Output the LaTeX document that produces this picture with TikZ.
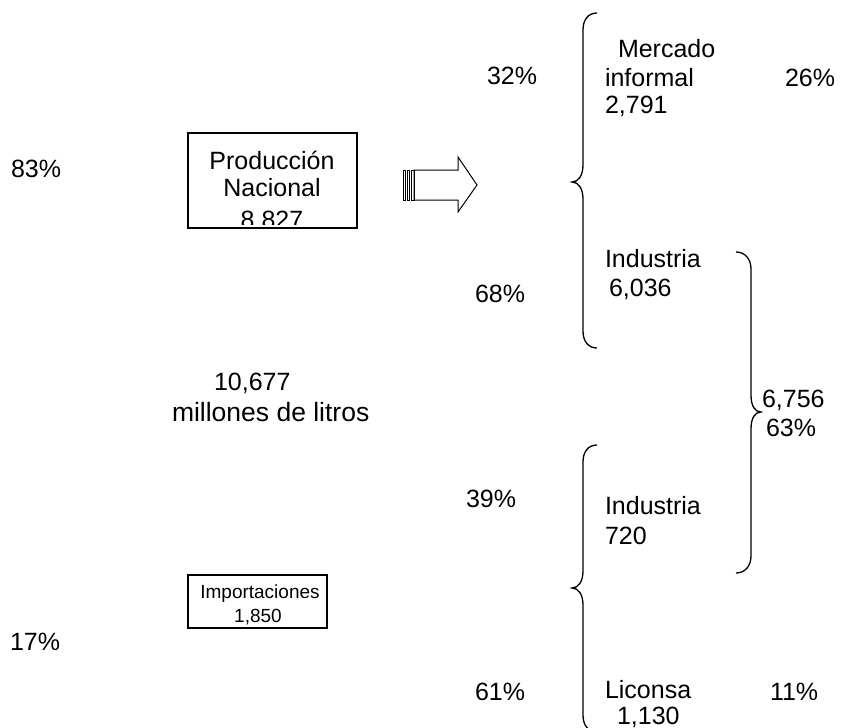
\documentclass[tikz,border=0pt]{standalone}
\usepackage{fontspec}
\setmainfont{Liberation Sans}
\begin{document}
\begin{tikzpicture}[x=1pt,y=-1pt,
  txt/.style={inner sep=0pt,outer sep=0pt,font=\fontsize{25}{29}\selectfont},
  small/.style={inner sep=0pt,outer sep=0pt,font=\fontsize{19}{23}\selectfont,anchor=base},
  lft/.style={txt,anchor=base west},
  ctr/.style={txt,anchor=base},
  boxline/.style={draw=black,line width=1.2pt},
  brace/.style={draw=black,line width=1.3pt}]
\useasboundingbox (0,0) rectangle (855,728);
\clip (0,0) rectangle (855,728);

% left percentages
\node[lft] (p83) at (11,177) {83\%};
\node[lft] (p17) at (10,650) {17\%};

% boxes
\draw[boxline] (188,133) rectangle (357,228);
\begin{scope}
\clip (189,134) rectangle (356,224.5);
\node[ctr] (prod1) at (272,169) {Producción};
\node[ctr] (prod2) at (272,196) {Nacional};
\node[ctr] (prod3) at (272,228.5) {8,827};
\end{scope}

\draw[boxline] (188,575) rectangle (327,628);
\begin{scope}
\clip (189,576) rectangle (326,624.5);
\node[small] (imp1) at (260,598) {Importaciones};
\node[small] (imp2) at (258,622) {1,850};
\end{scope}

% striped block arrow
\draw[line width=1pt] (414,170) -- (458,170) -- (458,157) -- (477,185) -- (458,212) -- (458,200) -- (414,200) -- cycle;
\draw[line width=0.9pt] (403,170) rectangle (405,200);
\draw[line width=0.9pt] (407,170) rectangle (409,200);
\draw[line width=0.9pt] (411,170) rectangle (414,200);

% centre texts
\node[lft] (t10677) at (214,390) {10,677};
\node[lft,font=\fontsize{26.5}{30}\selectfont] (tmill) at (172,421) {millones de litros};

% middle percentages
\node[lft] (p32) at (487,84) {32\%};
\node[lft] (p68) at (475,302) {68\%};
\node[lft] (p39) at (466,507) {39\%};
\node[lft] (p61) at (475,700) {61\%};

% braces
\draw[brace] (597,13) .. controls (588,13) and (583,20) .. (583,30) -- (583,165)
  .. controls (583,176) and (578,182) .. (572,182)
  .. controls (578,182) and (583,188) .. (583,199) -- (583,331)
  .. controls (583,341) and (588,348) .. (597,348);
\draw[brace] (736,252) .. controls (745,252) and (751,259) .. (751,269) -- (751,395)
  .. controls (751,406) and (755,412) .. (761,412)
  .. controls (755,412) and (751,418) .. (751,429) -- (751,556)
  .. controls (751,566) and (745,573) .. (736,573);
\draw[brace] (597,445) .. controls (588,445) and (583,452) .. (583,462) -- (583,571)
  .. controls (583,582) and (578,588) .. (572,588)
  .. controls (578,588) and (583,594) .. (583,605) -- (583,715)
  .. controls (583,725) and (588,732) .. (597,732);

% right texts
\node[lft] (merc1) at (618,57) {Mercado};
\node[lft] (merc2) at (605,86) {informal};
\node[lft] (merc3) at (605,113) {2,791};
\node[lft] (p26) at (785,86) {26\%};
\node[lft] (ind1a) at (605,267) {Industria};
\node[lft] (ind1b) at (609,296) {6,036};
\node[lft] (t6756) at (762,407) {6,756};
\node[lft] (p63) at (766,436) {63\%};
\node[lft] (ind2a) at (605,514) {Industria};
\node[lft] (ind2b) at (605,544) {720};
\node[lft] (lic1) at (605,698) {Liconsa};
\node[lft] (lic2) at (617,724) {1,130};
\node[lft] (p11) at (770,700) {11\%};
\end{tikzpicture}
\end{document}
